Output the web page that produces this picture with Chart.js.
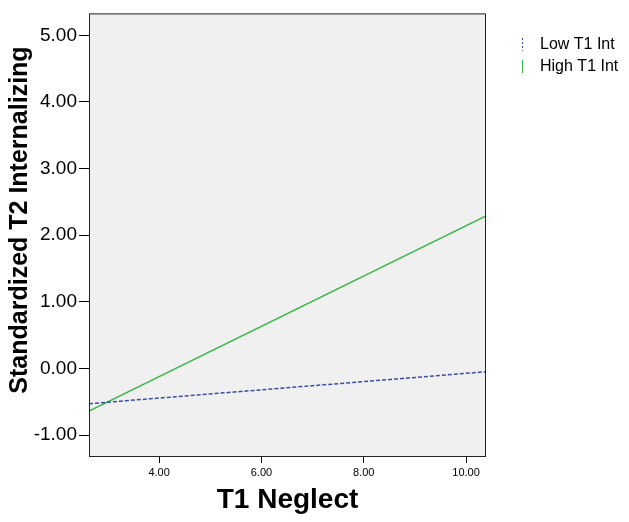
<!DOCTYPE html>
<html>
<head>
<meta charset="utf-8">
<script src="https://cdn.jsdelivr.net/npm/chart.js@4/dist/chart.umd.min.js"></script>
<style>
  html, body { margin: 0; padding: 0; background: #fff; }
  canvas { display: block; }
</style>
</head>
<body>
<canvas id="chart" width="629" height="522"></canvas>
<script>
// endpoints of the two simple slopes
const neglectX = [2.63, 10.39];
const lowInt = [-0.53, -0.05];
const highInt = [-0.64, 2.29];
const seriesNames = ['Low T1 Int', 'High T1 Int'];
const xTicks = [4, 6, 8, 10];
const yTicks = [-1, 0, 1, 2, 3, 4, 5];

const FONT = 'Arial, "Liberation Sans", sans-serif';
const lowColor = '#3a4ea6';
const highColor = '#3cb84a';

const frame = {
  id: 'frame',
  beforeDraw(chart) {
    const { ctx, chartArea: a } = chart;
    ctx.save();
    ctx.fillStyle = '#f0f0f0';
    ctx.fillRect(a.left, a.top, a.right - a.left, a.bottom - a.top);
    ctx.restore();
  },
  afterDraw(chart) {
    const { ctx, chartArea: a } = chart;
    ctx.save();
    ctx.strokeStyle = '#222';
    ctx.lineWidth = 1;
    ctx.strokeRect(a.left + 0.5, a.top + 0.5, a.right - a.left - 1, a.bottom - a.top - 1);

    // axis titles
    ctx.fillStyle = '#000';
    ctx.font = 'bold 28px ' + FONT;
    ctx.textAlign = 'center';
    ctx.textBaseline = 'middle';
    ctx.fillText('T1 Neglect', (a.left + a.right) / 2, 500);

    ctx.save();
    ctx.translate(20, 220);
    ctx.rotate(-Math.PI / 2);
    ctx.font = 'bold 25px ' + FONT;
    ctx.fillText('Standardized T2 Internalizing', 0, 0);
    ctx.restore();

    // legend
    ctx.font = '16px ' + FONT;
    ctx.textAlign = 'left';
    const items = [
      { label: seriesNames[0], color: lowColor, dash: [2, 2], y: 45 },
      { label: seriesNames[1], color: highColor, dash: [], y: 67 }
    ];
    items.forEach(it => {
      ctx.strokeStyle = it.color;
      ctx.setLineDash(it.dash);
      ctx.beginPath();
      ctx.moveTo(522.5, it.y - 7);
      ctx.lineTo(522.5, it.y + 6);
      ctx.stroke();
      ctx.setLineDash([]);
      ctx.fillStyle = '#000';
      ctx.fillText(it.label, 540, it.y);
    });
    ctx.restore();
  }
};

new Chart(document.getElementById('chart'), {
  type: 'line',
  data: {
    datasets: [
      {
        label: seriesNames[0],
        data: neglectX.map((x, i) => ({ x, y: lowInt[i] })),
        borderColor: lowColor,
        borderWidth: 1.5,
        borderDash: [4, 2],
        pointRadius: 0,
        fill: false
      },
      {
        label: seriesNames[1],
        data: neglectX.map((x, i) => ({ x, y: highInt[i] })),
        borderColor: highColor,
        borderWidth: 1.5,
        pointRadius: 0,
        fill: false
      }
    ]
  },
  options: {
    responsive: false,
    animation: false,
    layout: { padding: { top: 7, right: 143, left: 0, bottom: 0 } },
    plugins: {
      legend: { display: false },
      tooltip: { enabled: false }
    },
    scales: {
      x: {
        type: 'linear',
        min: 2.63,
        max: 10.39,
        afterBuildTicks: s => { s.ticks = xTicks.map(v => ({ value: v })); },
        afterFit: s => { s.height = 65; },
        grid: { drawOnChartArea: false, tickLength: 6, color: '#000' },
        border: { display: false },
        ticks: {
          color: '#000',
          padding: 3,
          maxRotation: 0,
          font: { family: FONT, size: 11 },
          callback: v => v.toFixed(2)
        }
      },
      y: {
        type: 'linear',
        min: -1.33,
        max: 5.33,
        afterBuildTicks: s => { s.ticks = yTicks.map(v => ({ value: v })); },
        afterFit: s => { s.width = 89; },
        grid: { drawOnChartArea: false, tickLength: 10, color: '#000' },
        border: { display: false },
        ticks: {
          color: '#000',
          padding: 2,
          font: { family: FONT, size: 19 },
          callback: v => v.toFixed(2)
        }
      }
    }
  },
  plugins: [frame]
});
</script>
</body>
</html>
